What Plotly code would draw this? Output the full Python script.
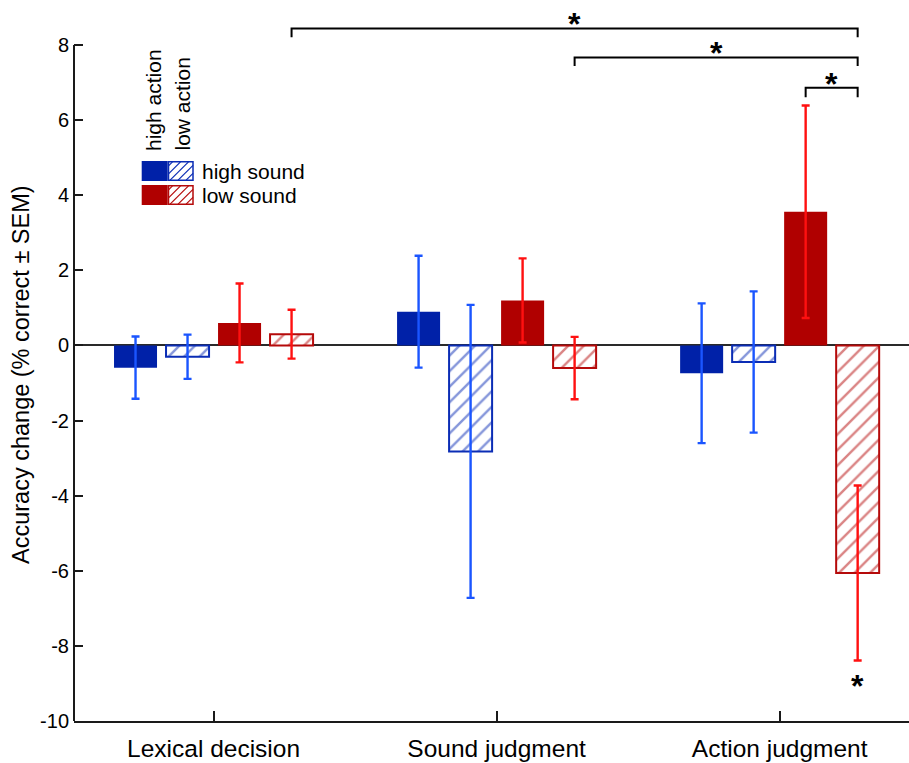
import plotly.graph_objects as go

# ---------------------------------------------------------------- data
categories = ["Lexical decision", "Sound judgment", "Action judgment"]

# mean accuracy change (% correct) and SEM for each condition
hs_ha_mean = [-0.59, 0.90, -0.74]   # high sound / high action
hs_ha_sem = [0.83, 1.49, 1.86]
hs_la_mean = [-0.30, -2.82, -0.44]  # high sound / low action
hs_la_sem = [0.59, 3.90, 1.88]
ls_ha_mean = [0.60, 1.20, 3.56]     # low sound / high action
ls_ha_sem = [1.05, 1.12, 2.83]
ls_la_mean = [0.30, -0.60, -6.06]   # low sound / low action
ls_la_sem = [0.65, 0.83, 2.33]

y_tick_vals = [-10, -8, -6, -4, -2, 0, 2, 4, 6, 8]
y_tick_text = [str(v) for v in y_tick_vals]

# significance brackets: (group, series) -> (group, series)
sig_pairs = [((0, 3), (2, 3)), ((1, 3), (2, 3)), ((2, 2), (2, 3))]
sig_marks = ["*", "*", "*"]

# ---------------------------------------------------------------- style
FONT = "Liberation Sans, Arial, sans-serif"
BLUE_FILL = "#0021A8"
BLUE_LINE = "#0B2DB5"
BLUE_ERR = "#1A55FF"
RED_FILL = "#B00000"
RED_LINE = "#B50A0A"
RED_ERR = "#FF1010"
AXIS = "#1a1a1a"

BARGAP = 0.265
BARGROUPGAP = 0.173
N_SERIES = 4

PLOT_L, PLOT_W, PLOT_H = 74, 835, 721
X_RANGE = [-0.493, 2.457]
Y_RANGE = [-10, 9.2]


def bar_x(group, series):
    slot = (1 - BARGAP) / N_SERIES
    return group - (1 - BARGAP) / 2 + (series + 0.5) * slot


def pxx(x):
    return (x - PLOT_L) / PLOT_W


def pxy(y):
    return 1 - y / PLOT_H


series = [
    (hs_ha_mean, hs_ha_sem, BLUE_FILL, BLUE_LINE, BLUE_ERR, False),
    (hs_la_mean, hs_la_sem, BLUE_FILL, BLUE_LINE, BLUE_ERR, True),
    (ls_ha_mean, ls_ha_sem, RED_FILL, RED_LINE, RED_ERR, False),
    (ls_la_mean, ls_la_sem, RED_FILL, RED_LINE, RED_ERR, True),
]

fig = go.Figure()
xs = list(range(len(categories)))
for mean, sem, fill, line, err, hatched in series:
    if hatched:
        marker = dict(
            color="white",
            line=dict(color=line, width=2),
            pattern=dict(shape="/", fgcolor=line, bgcolor="white",
                         size=11, solidity=0.22),
        )
    else:
        marker = dict(color=fill, line=dict(color=fill, width=0))
    fig.add_trace(go.Bar(
        x=xs, y=mean, marker=marker, showlegend=False,
        error_y=dict(type="data", array=sem, visible=True,
                     color=err, thickness=2.4, width=4),
    ))

shapes = []
# left axis line, from -10 to 8 only
shapes.append(dict(type="line", xref="paper", yref="y", x0=0, x1=0,
                   y0=-10, y1=8, line=dict(color=AXIS, width=2)))

# significance brackets
bracket_levels = [(8.44, 8.21, 8.71), (7.67, 7.44, 7.95), (6.86, 6.61, 7.11)]
annotations = []
for ((g1, s1), (g2, s2)), (top, foot, star_y), mark in zip(sig_pairs, bracket_levels, sig_marks):
    xa, xb = bar_x(g1, s1), bar_x(g2, s2)
    shapes.append(dict(
        type="path", xref="x", yref="y",
        path=f"M {xa},{foot} L {xa},{top} L {xb},{top} L {xb},{foot}",
        line=dict(color="black", width=2),
    ))
    annotations.append(dict(
        x=(xa + xb) / 2, y=star_y, xref="x", yref="y", text=mark,
        showarrow=False, xanchor="center", yanchor="middle", yshift=-6,
        font=dict(family=FONT, size=32, color="black", weight="bold"),
    ))

# marker below the low sound / low action bar of the action task
annotations.append(dict(
    x=bar_x(2, 3), y=-8.9, xref="x", yref="y", text="*",
    showarrow=False, xanchor="center", yanchor="middle", yshift=-6,
    font=dict(family=FONT, size=32, color="black", weight="bold"),
))

# y axis title
annotations.append(dict(
    x=pxx(21), y=pxy(375), xref="paper", yref="paper",
    text="Accuracy change (% correct ± SEM)", textangle=-90,
    showarrow=False, xanchor="center", yanchor="middle",
    font=dict(family=FONT, size=23.5, color="black"),
))

# ---------------------------------------------------------------- key
def hatch_lines(x0, y0, x1, y1, step, color):
    """Diagonal '/' hatching clipped to a box given in screen pixels."""
    out = []
    c = y0 + step / 2
    while c < y1 + (x1 - x0):
        xa = max(x0, x0 + c - y1)
        xb = min(x1, x0 + c - y0)
        if xb > xa:
            ya = c - (xa - x0)
            yb = c - (xb - x0)
            out.append(dict(type="line", xref="paper", yref="paper",
                            x0=pxx(xa), y0=pxy(ya), x1=pxx(xb), y1=pxy(yb),
                            line=dict(color=color, width=1.2)))
        c += step
    return out


key_rows = [("high sound", BLUE_FILL, BLUE_LINE, 161), ("low sound", RED_FILL, RED_LINE, 185)]
for label, fill, line, top in key_rows:
    bottom = top + 20
    shapes.append(dict(type="rect", xref="paper", yref="paper",
                       x0=pxx(141.7), x1=pxx(167.7), y0=pxy(bottom), y1=pxy(top),
                       fillcolor=fill, line=dict(width=0)))
    shapes.append(dict(type="rect", xref="paper", yref="paper",
                       x0=pxx(168.5), x1=pxx(193), y0=pxy(bottom - 0.8), y1=pxy(top + 0.8),
                       fillcolor="white", line=dict(color=line, width=1.5)))
    shapes.extend(hatch_lines(168.5, top + 0.8, 193, bottom - 0.8, 8, line))
    annotations.append(dict(
        x=pxx(200), y=pxy(top + 10), xref="paper", yref="paper", text=label,
        showarrow=False, xanchor="left", yanchor="middle",
        font=dict(family=FONT, size=21, color="black"),
    ))

for label, cx in [("high action", 153), ("low action", 182)]:
    annotations.append(dict(
        x=pxx(cx), y=pxy(153), xref="paper", yref="paper", text=label,
        textangle=-90, showarrow=False, xanchor="center", yanchor="bottom",
        font=dict(family=FONT, size=21, color="black"),
    ))

fig.update_layout(
    width=909, height=763,
    margin=dict(l=PLOT_L, r=0, t=0, b=42),
    paper_bgcolor="white", plot_bgcolor="white",
    barmode="group", bargap=BARGAP, bargroupgap=BARGROUPGAP,
    font=dict(family=FONT, color="black"),
    shapes=shapes, annotations=annotations,
    xaxis=dict(
        range=X_RANGE, tickvals=xs, ticktext=categories,
        showline=True, linecolor=AXIS, linewidth=2,
        ticks="inside", ticklen=10, tickwidth=2, tickcolor=AXIS,
        showgrid=False, zeroline=False,
        tickfont=dict(family=FONT, size=24.5, color="black"),
        ticklabelstandoff=5,
    ),
    yaxis=dict(
        range=Y_RANGE, tickvals=y_tick_vals, ticktext=y_tick_text,
        showline=False, showgrid=False,
        zeroline=True, zerolinecolor="#2a2a2a", zerolinewidth=2,
        ticks="inside", ticklen=9, tickwidth=2, tickcolor=AXIS,
        tickfont=dict(family=FONT, size=20, color="black"),
        ticklabelstandoff=4,
    ),
)

fig.write_html("out.html")
